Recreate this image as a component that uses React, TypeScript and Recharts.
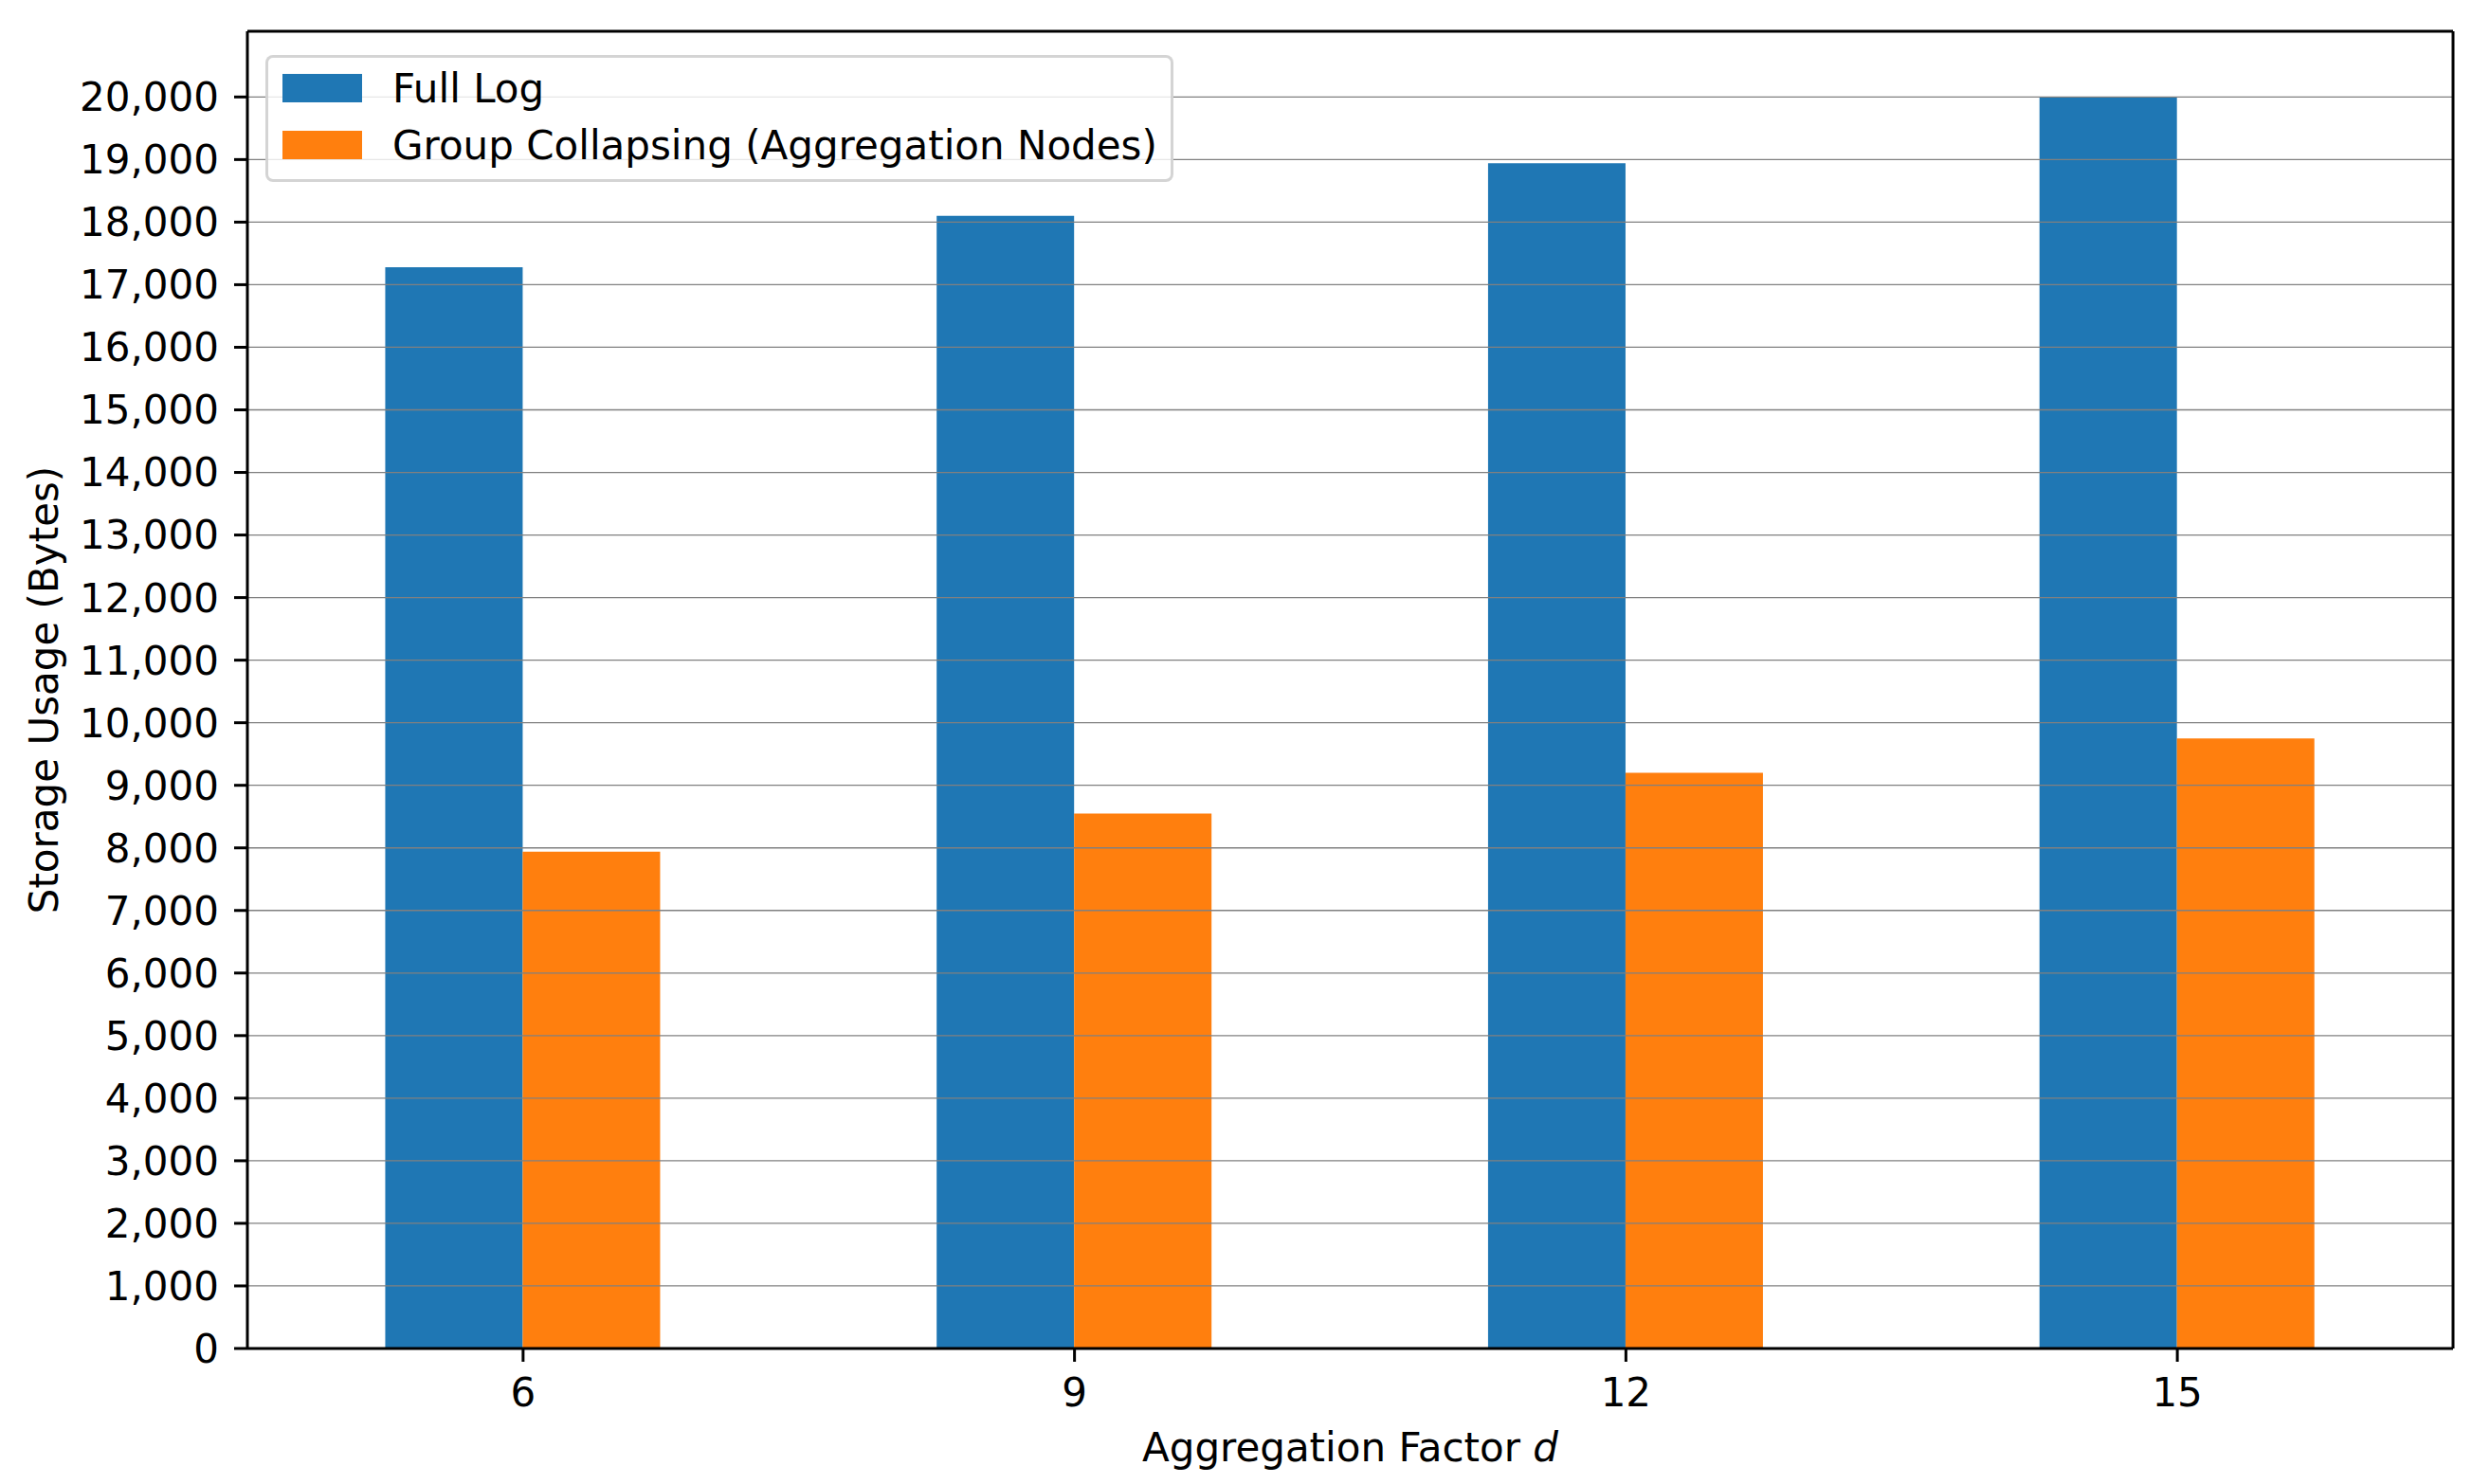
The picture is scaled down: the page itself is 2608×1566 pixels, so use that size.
import { BarChart, Bar, XAxis, YAxis, Legend, ReferenceLine, Label } from "recharts"

const factors = ["6", "9", "12", "15"]
const fullLog = [17280, 18100, 18940, 20000]
const groupCollapsing = [7940, 8550, 9200, 9750]
const yTicks = [0, 1000, 2000, 3000, 4000, 5000, 6000, 7000, 8000, 9000, 10000, 11000, 12000, 13000, 14000, 15000, 16000, 17000, 18000, 19000, 20000]

const seriesNames = ["Full Log", "Group Collapsing (Aggregation Nodes)"]
const COLORS = ["#1f77b4", "#ff7f0e"]

const data = factors.map((f, i) => ({ name: f, full: fullLog[i], group: groupCollapsing[i] }))

const FONT = "DejaVu Sans, sans-serif"
const FS = 42
const Y_MAX = 21050

const fmt = (v: number) => v.toLocaleString("en-US")

function LegendBox() {
  return (
    <div
      style={{
        background: "rgba(255,255,255,0.8)",
        border: "3px solid rgba(204,204,204,0.85)",
        borderRadius: 8,
        padding: "2px 14px 6px 15px",
        fontFamily: FONT,
        fontSize: FS,
        color: "#000",
        whiteSpace: "nowrap"
      }}
    >
      {seriesNames.map((n, i) => (
        <div key={n} style={{ display: "flex", alignItems: "center", height: 60 }}>
          <div style={{ width: 84, height: 30, background: COLORS[i], marginRight: 32 }} />
          <span>{n}</span>
        </div>
      ))}
    </div>
  )
}

export default function App() {
  return (
    <div style={{ position: "absolute", left: 0, top: 0, width: 2608, height: 1566, background: "#fff" }}>
      <BarChart
        width={2608}
        height={1566}
        data={data}
        margin={{ top: 32, right: 19, bottom: 0, left: 0 }}
        barCategoryGap="25%"
        barGap={0}
      >
        <XAxis
          dataKey="name"
          height={143}
          stroke="#000"
          strokeWidth={3}
          tickSize={14}
          tickMargin={17}
          tick={{ fill: "#000", fontSize: FS, fontFamily: FONT }}
          tickLine={{ stroke: "#000", strokeWidth: 3 }}
        >
          <Label
            content={(props: any) => {
              const vb = props.viewBox
              return (
                <text
                  x={vb.x + vb.width / 2}
                  y={1527}
                  textAnchor="middle"
                  dominantBaseline="central"
                  fontFamily={FONT}
                  fontSize={FS}
                  fill="#000"
                >
                  Aggregation Factor <tspan fontStyle="italic">d</tspan>
                </text>
              )
            }}
          />
        </XAxis>
        <XAxis xAxisId="top" dataKey="name" orientation="top" height={1} stroke="#000" strokeWidth={3} tick={false} tickLine={false} />
        <YAxis
          width={261}
          domain={[0, Y_MAX]}
          ticks={yTicks}
          tickFormatter={fmt}
          interval={0}
          stroke="#000"
          strokeWidth={3}
          tickSize={14}
          tickMargin={16}
          tick={{ fill: "#000", fontSize: FS, fontFamily: FONT }}
          tickLine={{ stroke: "#000", strokeWidth: 3 }}
        >
          <Label
            content={(props: any) => {
              const vb = props.viewBox
              const cy = vb.y + vb.height / 2
              return (
                <text
                  x={46}
                  y={cy}
                  transform={`rotate(-90, 46, ${cy})`}
                  textAnchor="middle"
                  dominantBaseline="central"
                  fontFamily={FONT}
                  fontSize={FS}
                  fill="#000"
                >
                  Storage Usage (Bytes)
                </text>
              )
            }}
          />
        </YAxis>
        <YAxis yAxisId="right" orientation="right" width={1} domain={[0, Y_MAX]} stroke="#000" strokeWidth={3} tick={false} tickLine={false} />
        <Bar dataKey="full" name={seriesNames[0]} fill={COLORS[0]} isAnimationActive={false} />
        <Bar dataKey="group" name={seriesNames[1]} fill={COLORS[1]} isAnimationActive={false} />
        {yTicks.slice(1).map((t) => (
          <ReferenceLine key={t} y={t} stroke="#808080" strokeWidth={1.3} />
        ))}
        <Legend
          layout="vertical"
          align="center"
          verticalAlign="middle"
          content={() => <LegendBox />}
          wrapperStyle={{ left: 280, top: 58, width: "auto", height: "auto" }}
        />
      </BarChart>
    </div>
  )
}
